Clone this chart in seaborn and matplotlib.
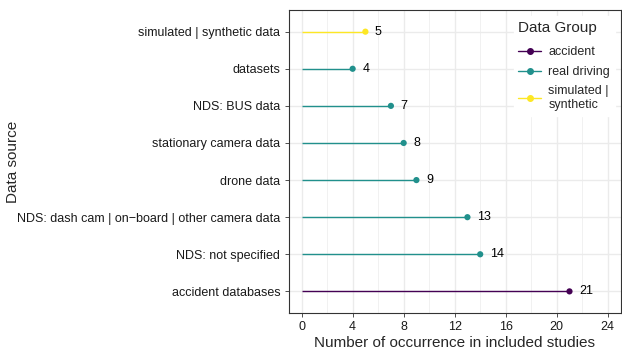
import seaborn as sns
import pandas as pd
import matplotlib.pyplot as plt
from matplotlib.lines import Line2D

# bottom to top
sources = [
    "accident databases",
    "NDS: not specified",
    "NDS: dash cam | on\u2212board | other camera data",
    "drone data",
    "stationary camera data",
    "NDS: BUS data",
    "datasets",
    "simulated | synthetic data",
]
counts = [21, 14, 13, 9, 8, 7, 4, 5]
groups = ["accident", "real driving", "real driving", "real driving",
          "real driving", "real driving", "real driving", "simulated | synthetic"]

group_order = ["accident", "real driving", "simulated | synthetic"]
palette = {"accident": "#440154", "real driving": "#21908C",
           "simulated | synthetic": "#FDE725"}

df = pd.DataFrame({"source": sources, "n": counts, "group": groups})

sns.set_style("white")
plt.rcParams["font.family"] = ["Liberation Sans", "DejaVu Sans"]

fig = plt.figure(figsize=(6.22, 3.5), dpi=100)
ax = fig.add_axes([0.4640, 0.106, 0.998 - 0.4640, 0.971 - 0.106])

# grid (ggplot theme_bw look): major every 4, minor in between
for v in range(0, 25, 2):
    ax.axvline(v, color="#EBEBEB", lw=1.0 if v % 4 == 0 else 0.5, zorder=0)
ypos = list(range(len(sources)))
for y in ypos:
    ax.axhline(y, color="#EBEBEB", lw=1.0, zorder=0)

for i, row in df.iterrows():
    ax.hlines(i, 0, row["n"], color=palette[row["group"]], lw=1.0, zorder=2)

sns.scatterplot(data=df, x="n", y=ypos, hue="group", palette=palette,
                hue_order=group_order, s=20, linewidth=0, ax=ax,
                legend=False, zorder=3)

for i, row in df.iterrows():
    ax.text(row["n"] + 0.75, i, str(row["n"]), va="center", ha="left",
            fontsize=9, color="black", zorder=4)

ax.set_xlim(-1.02, 25.02)
ax.set_ylim(-0.58, 7.58)
ax.set_xticks(range(0, 25, 4))
ax.set_yticks(ypos)
ax.set_yticklabels(sources)
ax.tick_params(axis="both", labelsize=9, labelcolor="#1a1a1a", length=3,
               width=0.6, color="#333333", pad=3, direction="out")
ax.tick_params(left=True, bottom=True)
for sp in ax.spines.values():
    sp.set_color("#333333")
    sp.set_linewidth(0.8)

ax.set_xlabel("Number of occurrence in included studies", fontsize=11, labelpad=2)
ax.set_ylabel("Data source", fontsize=11)
ax.yaxis.set_label_coords(-0.81, 0.5)

handles = [Line2D([0], [0], color=palette[g], lw=1.0, marker="o", markersize=4)
           for g in group_order]
labels = ["accident", "real driving", "simulated |\nsynthetic"]
leg = ax.legend(handles, labels, title="Data Group", loc="upper right",
                bbox_to_anchor=(1.0, 1.0), frameon=True, fontsize=9,
                title_fontsize=11, handlelength=1.8, handletextpad=0.6,
                labelspacing=0.6, borderpad=0.35, alignment="left")
leg._legend_box.sep += 3
leg.get_frame().set_facecolor("white")
leg.get_frame().set_edgecolor("white")
leg.get_frame().set_alpha(1)
leg.get_frame().set_boxstyle("square", pad=0)

plt.savefig("out.png", dpi=100)
